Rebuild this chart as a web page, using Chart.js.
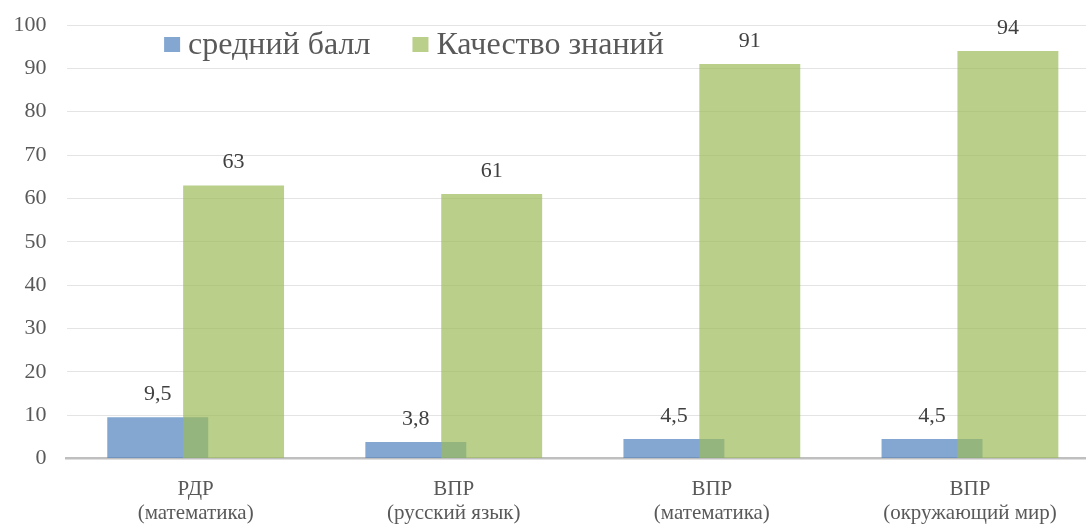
<!DOCTYPE html>
<html><head><meta charset="utf-8">
<script src="https://cdn.jsdelivr.net/npm/chart.js@4"></script>
<style>
html,body{margin:0;padding:0;overflow:hidden;background:#fff}
#wrap{position:relative;width:1110px;height:528px}
</style></head>
<body><div id="wrap"><canvas id="c" width="1110" height="528"></canvas></div>
<script>
const categories = [["РДР","(математика)"],["ВПР","(русский язык)"],["ВПР","(математика)"],["ВПР","(окружающий мир)"]];
const seriesNames = ["средний балл","Качество знаний"];
const avgScore = [9.5, 3.8, 4.5, 4.5];
const quality = [63, 61, 91, 94];
const yMin = 0, yMax = 100, yStep = 10;

const FONT = '"Liberation Serif", serif';
Chart.defaults.font.family = FONT;
const BLUE = 'rgba(79,129,189,0.7)';
const GREEN = 'rgba(155,187,89,0.7)';
const fmt = v => String(v).replace('.', ',');

let manualDraw = false;
const drawPlugin = {
  id: 'drawPlugin',
  beforeDatasetDraw(chart) { if (!manualDraw) return false; },
  afterDatasetsDraw(chart) {
    const ctx = chart.ctx;
    manualDraw = true;
    chart.data.datasets.forEach((ds, i) => {
      const meta = chart.getDatasetMeta(i);
      if (meta.visible) meta.controller.draw();
    });
    manualDraw = false;
    ctx.save();
    ctx.font = '22px ' + FONT;
    ctx.fillStyle = '#404040';
    ctx.textAlign = 'center';
    ctx.textBaseline = 'middle';
    chart.data.datasets.forEach((ds, i) => {
      chart.getDatasetMeta(i).data.forEach((bar, j) => {
        ctx.fillText(fmt(ds.data[j]), bar.x, bar.y - 23);
      });
    });
    ctx.font = '32px ' + FONT;
    ctx.textAlign = 'left';
    let x = chart.chartArea.left + 97.5;
    const y = 46;
    chart.data.datasets.forEach((ds) => {
      ctx.fillStyle = ds.backgroundColor;
      ctx.fillRect(x, y - 9, 16, 15);
      x += 24;
      ctx.fillStyle = '#595959';
      ctx.fillText(ds.label, x, y);
      x += ctx.measureText(ds.label).width + 42;
    });
    ctx.restore();
  }
};

new Chart(document.getElementById('c'), {
  type: 'bar',
  data: {
    labels: categories,
    datasets: [
      { label: seriesNames[0], data: avgScore, backgroundColor: BLUE, borderWidth: 0 },
      { label: seriesNames[1], data: quality, backgroundColor: GREEN, borderWidth: 0 }
    ]
  },
  options: {
    responsive: false,
    animation: false,
    devicePixelRatio: 1,
    categoryPercentage: 0.588,
    barPercentage: 1.33,
    layout: { padding: { left: 0, right: 11, top: 25, bottom: 0 } },
    plugins: { legend: { display: false }, tooltip: { enabled: false } },
    scales: {
      x: {
        grid: { display: false, drawTicks: false },
        border: { display: true, color: '#BFBFBF', width: 2.5 },
        ticks: { font: { family: FONT, size: 21, lineHeight: 1.15 }, color: '#595959', padding: 19, maxRotation: 0, autoSkip: false },
        afterFit: s => { s.height = 69.5; s.paddingLeft = 0; s.paddingRight = 0; }
      },
      y: {
        min: yMin, max: yMax,
        ticks: { stepSize: yStep, font: { family: FONT, size: 22 }, color: '#595959', padding: 20 },
        grid: { color: '#E4E4E4', lineWidth: 1, drawTicks: false },
        border: { display: false },
        afterFit: s => { s.width = 66.6; s.paddingTop = 0; s.paddingBottom = 0; }
      }
    }
  },
  plugins: [drawPlugin]
});
</script>
</body></html>
